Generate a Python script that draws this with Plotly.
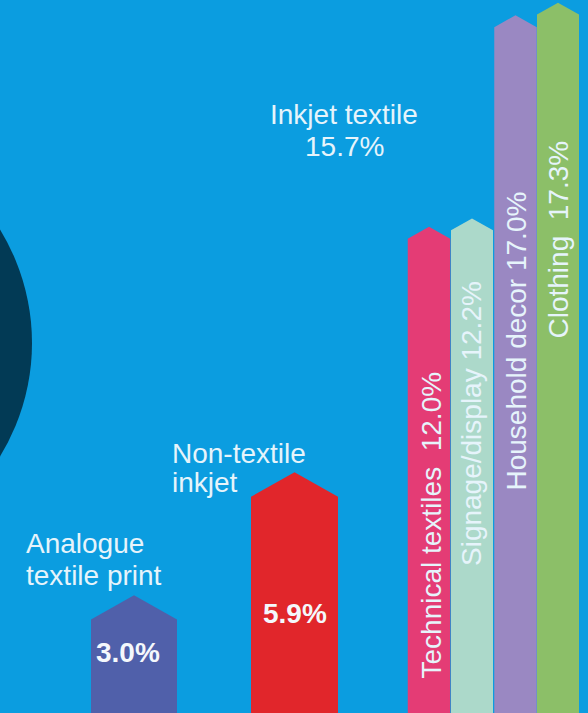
import plotly.graph_objects as go

# ---- data ----
categories = ["Analogue textile print", "Non-textile inkjet", "Technical textiles",
              "Signage/display", "Household decor", "Clothing"]
values = [3.0, 5.9, 12.0, 12.2, 17.0, 17.3]
group_label = "Inkjet textile"
group_value = 15.7

# ---- layout / style constants (pixels of the 588x713 canvas) ----
W, H = 588, 713
bar_centers = [134, 294.5, 429, 472, 515.5, 558]
bar_widths = [86, 87, 42.5, 42, 42.5, 42]
peak_ratio = 0.28          # height of arrow tip relative to bar width
px_per_unit = 42.3
y_min = 0.787
y_max = y_min + H / px_per_unit
colors = ["#5060aa", "#e1262b", "#e43c75", "#acd9ca", "#9a88c2", "#8cbf68"]
bg = "#0b9de0"
circle_col = "#023a55"
txt_col = "#e6f4fb"
font_fam = "Liberation Sans, Arial, sans-serif"
FS = 28

fig = go.Figure()

for c, v, xc, w, col in zip(categories, values, bar_centers, bar_widths, colors):
    tip = peak_ratio * w / px_per_unit
    xs = [xc - w / 2, xc - w / 2, xc, xc + w / 2, xc + w / 2, xc - w / 2]
    ys = [y_min, v, v + tip, v, y_min, y_min]
    fig.add_trace(go.Scatter(x=xs, y=ys, mode="lines", fill="toself",
                             fillcolor=col, line=dict(width=0, color=col),
                             name=c, hoverinfo="name", showlegend=False))


def py(p):
    return 1 - p / H


ann = []
# horizontal category labels (one annotation per line)
for text, x, ymid in [("Analogue", 24, 543), ("textile print", 24, 575),
                      ("Non-textile", 170, 453), ("inkjet", 170, 483)]:
    ann.append(dict(text=text, x=x, y=py(ymid), xref="x", yref="paper",
                    xanchor="left", yanchor="middle", showarrow=False,
                    font=dict(size=FS, color=txt_col, family=font_fam)))

ann.append(dict(text=group_label, x=344, y=py(115), xref="x", yref="paper",
                xanchor="center", yanchor="middle", showarrow=False,
                font=dict(size=FS, color=txt_col, family=font_fam)))
ann.append(dict(text=f"{group_value:.1f}%", x=344, y=py(147), xref="x", yref="paper",
                xanchor="center", yanchor="middle", showarrow=False,
                font=dict(size=FS, color=txt_col, family=font_fam)))

# bold value labels inside the two wide bars
for i, ymid, xo in [(0, 652, -6), (1, 613, 0)]:
    ann.append(dict(text=f"<b>{values[i]:.1f}%</b>", x=bar_centers[i] + xo, y=py(ymid),
                    xref="x", yref="paper", xanchor="center", yanchor="middle",
                    showarrow=False,
                    font=dict(size=FS, color="#f4f8fc", family=font_fam)))

# rotated labels inside the inkjet-textile bars
seps = ["\u00a0 ", " ", " ", "\u00a0 "]
rot_x = [431, 471.5, 516, 557.5]
rot_bottom = [681, 568, 493, 341]
for k in range(4):
    i = k + 2
    ann.append(dict(text=f"{categories[i]}{seps[k]}{values[i]:.1f}%",
                    x=rot_x[k], y=py(rot_bottom[k]), xref="x", yref="paper",
                    xanchor="center", yanchor="bottom", textangle=-90,
                    showarrow=False,
                    font=dict(size=FS, color=txt_col, family=font_fam)))

fig.update_layout(
    width=W, height=H,
    margin=dict(l=0, r=0, t=0, b=0),
    paper_bgcolor=bg, plot_bgcolor=bg,
    xaxis=dict(range=[0, W], visible=False, fixedrange=True),
    yaxis=dict(range=[y_min, y_max], visible=False, fixedrange=True),
    annotations=ann,
    shapes=[dict(type="circle", xref="paper", yref="paper", layer="below",
                 x0=(-185 - 217) / W, x1=(-185 + 217) / W,
                 y0=py(343 + 217), y1=py(343 - 217),
                 fillcolor=circle_col, line=dict(width=0))],
    showlegend=False,
)

fig.write_html("out.html")
